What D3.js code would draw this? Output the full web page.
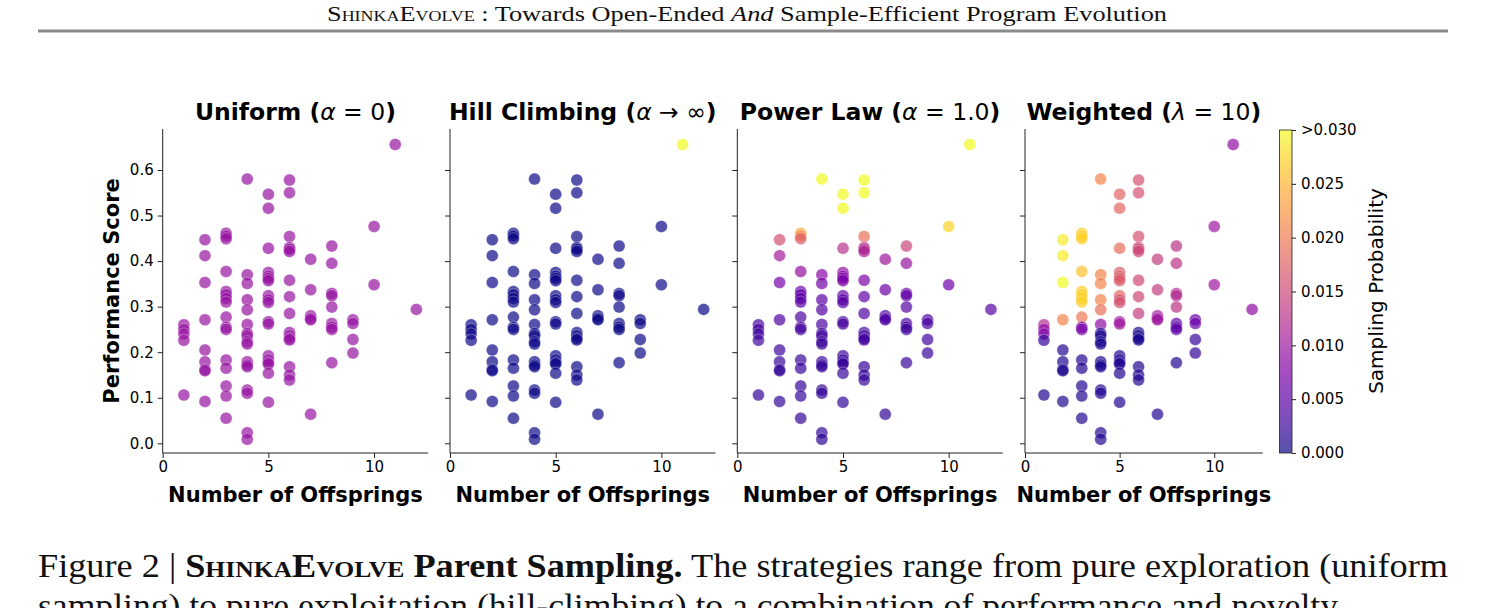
<!DOCTYPE html>
<html lang="en">
<head>
<meta charset="UTF-8" />
<title>Parent Sampling</title>
<script src="https://d3js.org/d3.v7.min.js"></script>
<style>
  body { margin: 0; background: #fff; overflow: hidden; }
  svg { display: block; }
  .serif { font-family: "Liberation Serif", "DejaVu Serif", serif; fill: #111; }
</style>
</head>
<body>
<svg width="1486" height="608"></svg>
<script>
  // ---- data ----
  const offspringLevels = [1, 2, 3, 4, 5, 6, 7, 8, 9, 10, 11, 12];

  const scores = [
    [0.260, 0.250, 0.240, 0.226, 0.106],
    [0.447, 0.412, 0.353, 0.271, 0.205, 0.179, 0.162, 0.159, 0.092],
    [0.461, 0.455, 0.449, 0.377, 0.333, 0.326, 0.318, 0.310, 0.277, 0.255, 0.250, 0.183, 0.165, 0.126, 0.104, 0.055],
    [0.580, 0.370, 0.351, 0.315, 0.293, 0.261, 0.241, 0.236, 0.223, 0.218, 0.179, 0.172, 0.168, 0.117, 0.110, 0.023, 0.009],
    [0.547, 0.516, 0.428, 0.375, 0.367, 0.362, 0.357, 0.324, 0.315, 0.309, 0.267, 0.262, 0.192, 0.183, 0.177, 0.174, 0.154, 0.090],
    [0.578, 0.550, 0.454, 0.430, 0.426, 0.421, 0.358, 0.322, 0.285, 0.243, 0.236, 0.230, 0.227, 0.168, 0.150, 0.139],
    [0.404, 0.337, 0.280, 0.274, 0.271, 0.064],
    [0.433, 0.395, 0.329, 0.324, 0.299, 0.263, 0.255, 0.250, 0.177],
    [0.271, 0.263, 0.228, 0.198],
    [0.476, 0.348],
    [0.656],
    [0.294]
  ];

  const probUniform = 0.0096;

  const probHill = [
    [0, 0, 0, 0, 0],
    [0, 0, 0, 0, 0, 0, 0, 0, 0],
    [0, 0, 0, 0, 0, 0, 0, 0, 0, 0, 0, 0, 0, 0, 0, 0],
    [0, 0, 0, 0, 0, 0, 0, 0, 0, 0, 0, 0, 0, 0, 0, 0, 0],
    [0, 0, 0, 0, 0, 0, 0, 0, 0, 0, 0, 0, 0, 0, 0, 0, 0, 0],
    [0, 0, 0, 0, 0, 0, 0, 0, 0, 0, 0, 0, 0, 0, 0, 0],
    [0, 0, 0, 0, 0, 0],
    [0, 0, 0, 0, 0, 0, 0, 0, 0],
    [0, 0, 0, 0],
    [0, 0],
    [1],
    [0]
  ];

  const probPower = [
    [0.0033, 0.0031, 0.0029, 0.0027, 0.0020],
    [0.0160, 0.0106, 0.0068, 0.0038, 0.0026, 0.0024, 0.0022, 0.0021, 0.0019],
    [0.0240, 0.0213, 0.0174, 0.0091, 0.0060, 0.0056, 0.0050, 0.0047, 0.0040, 0.0032, 0.0031, 0.0025, 0.0022, 0.0020, 0.0020, 0.0019],
    [0.0960, 0.0083, 0.0066, 0.0049, 0.0043, 0.0034, 0.0029, 0.0029, 0.0026, 0.0026, 0.0024, 0.0023, 0.0022, 0.0020, 0.0020, 0.0019, 0.0018],
    [0.0380, 0.0320, 0.0128, 0.0087, 0.0080, 0.0077, 0.0071, 0.0055, 0.0048, 0.0046, 0.0036, 0.0034, 0.0025, 0.0024, 0.0023, 0.0023, 0.0021, 0.0019],
    [0.0640, 0.0480, 0.0192, 0.0137, 0.0120, 0.0113, 0.0074, 0.0052, 0.0042, 0.0030, 0.0028, 0.0028, 0.0027, 0.0022, 0.0021, 0.0021],
    [0.0101, 0.0062, 0.0041, 0.0039, 0.0038, 0.0019],
    [0.0147, 0.0096, 0.0058, 0.0053, 0.0045, 0.0035, 0.0032, 0.0030, 0.0023],
    [0.0037, 0.0035, 0.0027, 0.0025],
    [0.0274, 0.0064],
    [0.1900],
    [0.0044]
  ];

  const probWeighted = [
    [0.012, 0.009, 0.008, 0.002, 0.001],
    [0.029, 0.029, 0.030, 0.021, 0.001, 0.001, 0.0005, 0.0005, 0.001],
    [0.027, 0.027, 0.027, 0.026, 0.027, 0.027, 0.027, 0.027, 0.020, 0.007, 0.007, 0.001, 0.001, 0.001, 0.001, 0.001],
    [0.021, 0.021, 0.021, 0.021, 0.019, 0.009, 0.0005, 0.0005, 0.0005, 0.0005, 0.0005, 0.0005, 0.0005, 0.001, 0.001, 0.001, 0.001],
    [0.018, 0.018, 0.019, 0.017, 0.017, 0.017, 0.017, 0.018, 0.016, 0.016, 0.010, 0.010, 0.001, 0.001, 0.001, 0.001, 0.001, 0.001],
    [0.016, 0.016, 0.016, 0.015, 0.015, 0.015, 0.015, 0.015, 0.014, 0.0005, 0.0005, 0.0005, 0.0005, 0.001, 0.001, 0.001],
    [0.014, 0.014, 0.010, 0.010, 0.010, 0.001],
    [0.013, 0.013, 0.012, 0.012, 0.013, 0.005, 0.005, 0.005, 0.001],
    [0.006, 0.006, 0.002, 0.002],
    [0.010, 0.010],
    [0.009],
    [0.009]
  ];

  const xTicks = [0, 5, 10];
  const yTicks = [0.0, 0.1, 0.2, 0.3, 0.4, 0.5, 0.6];
  const cbarTicks = [0, 0.005, 0.01, 0.015, 0.02, 0.025, 0.03];
  const cbarLabels = ["0.000", "0.005", "0.010", "0.015", "0.020", "0.025", ">0.030"];

  const panels = [
    { name: "Uniform", math: [["(", "b"], ["α", "i"], [" = 0", "m"], [")", "b"]], prob: () => probUniform },
    { name: "Hill Climbing", math: [["(", "b"], ["α", "i"], [" → ∞", "m"], [")", "b"]], prob: (i, j) => probHill[i][j] },
    { name: "Power Law", math: [["(", "b"], ["α", "i"], [" = 1.0", "m"], [")", "b"]], prob: (i, j) => probPower[i][j] },
    { name: "Weighted", math: [["(", "b"], ["λ", "i"], [" = 10", "m"], [")", "b"]], prob: (i, j) => probWeighted[i][j] }
  ];

  // ---- layout ----
  const svg = d3.select("svg");
  const plotTop = 129, plotBottom = 453;
  const panelLeft = [162.7, 450, 737.3, 1025];
  const panelWidth = [265.5, 265.5, 265.5, 237.7]; // last one shares room with the colorbar
  const pMax = 0.03;
  const color = p => d3.interpolatePlasma(Math.min(p / pMax, 1));

  const y = d3.scaleLinear().domain([-0.0213, 0.69]).range([plotBottom, plotTop]);

  function styleTicks(sel) {
    sel.attr("font-family", "DejaVu Sans, sans-serif").attr("font-size", 15);
    sel.selectAll(".tick text").attr("fill", "#000");
    sel.selectAll(".tick line").attr("stroke", "#222").attr("stroke-width", 1);
  }

  // header
  const head = svg.append("text").attr("class", "serif")
    .attr("x", 327).attr("y", 21)
    .attr("font-size", 22)
    .attr("textLength", 840).attr("lengthAdjust", "spacingAndGlyphs");
  head.append("tspan").style("font-variant", "small-caps").text("ShinkaEvolve");
  head.append("tspan").text(" : Towards Open-Ended ");
  head.append("tspan").attr("font-style", "italic").text("And");
  head.append("tspan").text(" Sample-Efficient Program Evolution");

  svg.append("line")
    .attr("x1", 38).attr("x2", 1448).attr("y1", 31).attr("y2", 31)
    .attr("stroke", "#8a8a8a").attr("stroke-width", 3);

  panels.forEach((panel, k) => {
    const plotW = panelWidth[k];
    const x = d3.scaleLinear().domain([0, 12.56]).range([0, plotW]);
    const g = svg.append("g").attr("transform", `translate(${panelLeft[k]},0)`);

    const pts = [];
    scores.forEach((col, i) => col.forEach((s, j) => {
      pts.push({ n: offspringLevels[i], s: s, p: panel.prob(i, j) });
    }));

    g.append("g").selectAll("circle")
      .data(pts)
      .join("circle")
      .attr("cx", d => x(d.n))
      .attr("cy", d => y(d.s))
      .attr("r", 6)
      .attr("fill", d => color(d.p))
      .attr("fill-opacity", 0.7)
      .attr("stroke", "#fff")
      .attr("stroke-opacity", 0.5)
      .attr("stroke-width", 0.6);

    const yAxis = d3.axisLeft(y).tickValues(yTicks).tickSize(5).tickPadding(4)
      .tickFormat(k === 0 ? d3.format(".1f") : "");
    const ya = g.append("g").call(yAxis).call(styleTicks);
    ya.select(".domain").attr("d", `M0,${plotTop}V${plotBottom}`);

    const xAxis = d3.axisBottom(x).tickValues(xTicks).tickSize(5).tickPadding(3).tickFormat(d3.format("d"));
    const xa = g.append("g").attr("transform", `translate(0,${plotBottom})`).call(xAxis).call(styleTicks);
    xa.select(".domain").attr("d", `M0,0H${plotW}`);

    g.selectAll(".domain").attr("stroke", "#222").attr("stroke-width", 1);

    // title
    const t = g.append("text")
      .attr("x", plotW / 2).attr("y", 120)
      .attr("text-anchor", "middle")
      .attr("font-family", "DejaVu Sans, sans-serif")
      .attr("font-size", 23.5).attr("font-weight", "bold")
      .text(panel.name + " ");
    panel.math.forEach(([txt, kind]) => {
      const sp = t.append("tspan").text(txt);
      if (kind === "i") sp.attr("font-style", "italic").attr("font-weight", "normal");
      if (kind === "m") sp.attr("font-weight", "normal");
    });

    g.append("text")
      .attr("x", plotW / 2).attr("y", 502)
      .attr("text-anchor", "middle")
      .attr("font-family", "DejaVu Sans, sans-serif")
      .attr("font-size", 21).attr("font-weight", "bold")
      .text("Number of Offsprings");
  });

  svg.append("text")
    .attr("transform", `translate(119,${(plotTop + plotBottom) / 2}) rotate(-90)`)
    .attr("text-anchor", "middle")
    .attr("font-family", "DejaVu Sans, sans-serif")
    .attr("font-size", 21).attr("font-weight", "bold")
    .text("Performance Score");

  // colorbar
  const cb = { x: 1279.5, w: 12.5 };
  const cy = d3.scaleLinear().domain([0, pMax]).range([plotBottom, plotTop + 1]);
  const grad = svg.append("defs").append("linearGradient")
    .attr("id", "plasma").attr("x1", 0).attr("x2", 0).attr("y1", 1).attr("y2", 0);
  d3.range(0, 1.0001, 0.05).forEach(t => {
    grad.append("stop").attr("offset", t).attr("stop-color", d3.interpolatePlasma(t));
  });
  svg.append("rect")
    .attr("x", cb.x).attr("y", cy(pMax)).attr("width", cb.w).attr("height", cy(0) - cy(pMax))
    .attr("fill", "url(#plasma)").attr("fill-opacity", 0.7)
    .attr("stroke", "#222").attr("stroke-width", 0.8);
  const cAxis = d3.axisRight(cy).tickValues(cbarTicks).tickSize(4).tickPadding(5)
    .tickFormat((d, i) => cbarLabels[i]);
  const ca = svg.append("g").attr("transform", `translate(${cb.x + cb.w},0)`).call(cAxis).call(styleTicks);
  ca.select(".domain").remove();

  svg.append("text")
    .attr("transform", `translate(1383,${(plotTop + plotBottom) / 2}) rotate(-90)`)
    .attr("text-anchor", "middle")
    .attr("font-family", "DejaVu Sans, sans-serif")
    .attr("font-size", 20)
    .text("Sampling Probability");

  // caption
  const cap = svg.append("text").attr("class", "serif")
    .attr("x", 38).attr("y", 577)
    .attr("font-size", 34)
    .attr("textLength", 1410).attr("lengthAdjust", "spacingAndGlyphs");
  cap.append("tspan").text("Figure 2 | ");
  const capBold = cap.append("tspan").attr("font-weight", "bold");
  capBold.append("tspan").style("font-variant", "small-caps").text("ShinkaEvolve");
  capBold.append("tspan").text(" Parent Sampling.");
  cap.append("tspan").text(" The strategies range from pure exploration (uniform");

  svg.append("text").attr("class", "serif")
    .attr("x", 38).attr("y", 617)
    .attr("font-size", 34)
    .attr("textLength", 1300).attr("lengthAdjust", "spacingAndGlyphs")
    .text("sampling) to pure exploitation (hill-climbing) to a combination of performance and novelty");
</script>
</body>
</html>
